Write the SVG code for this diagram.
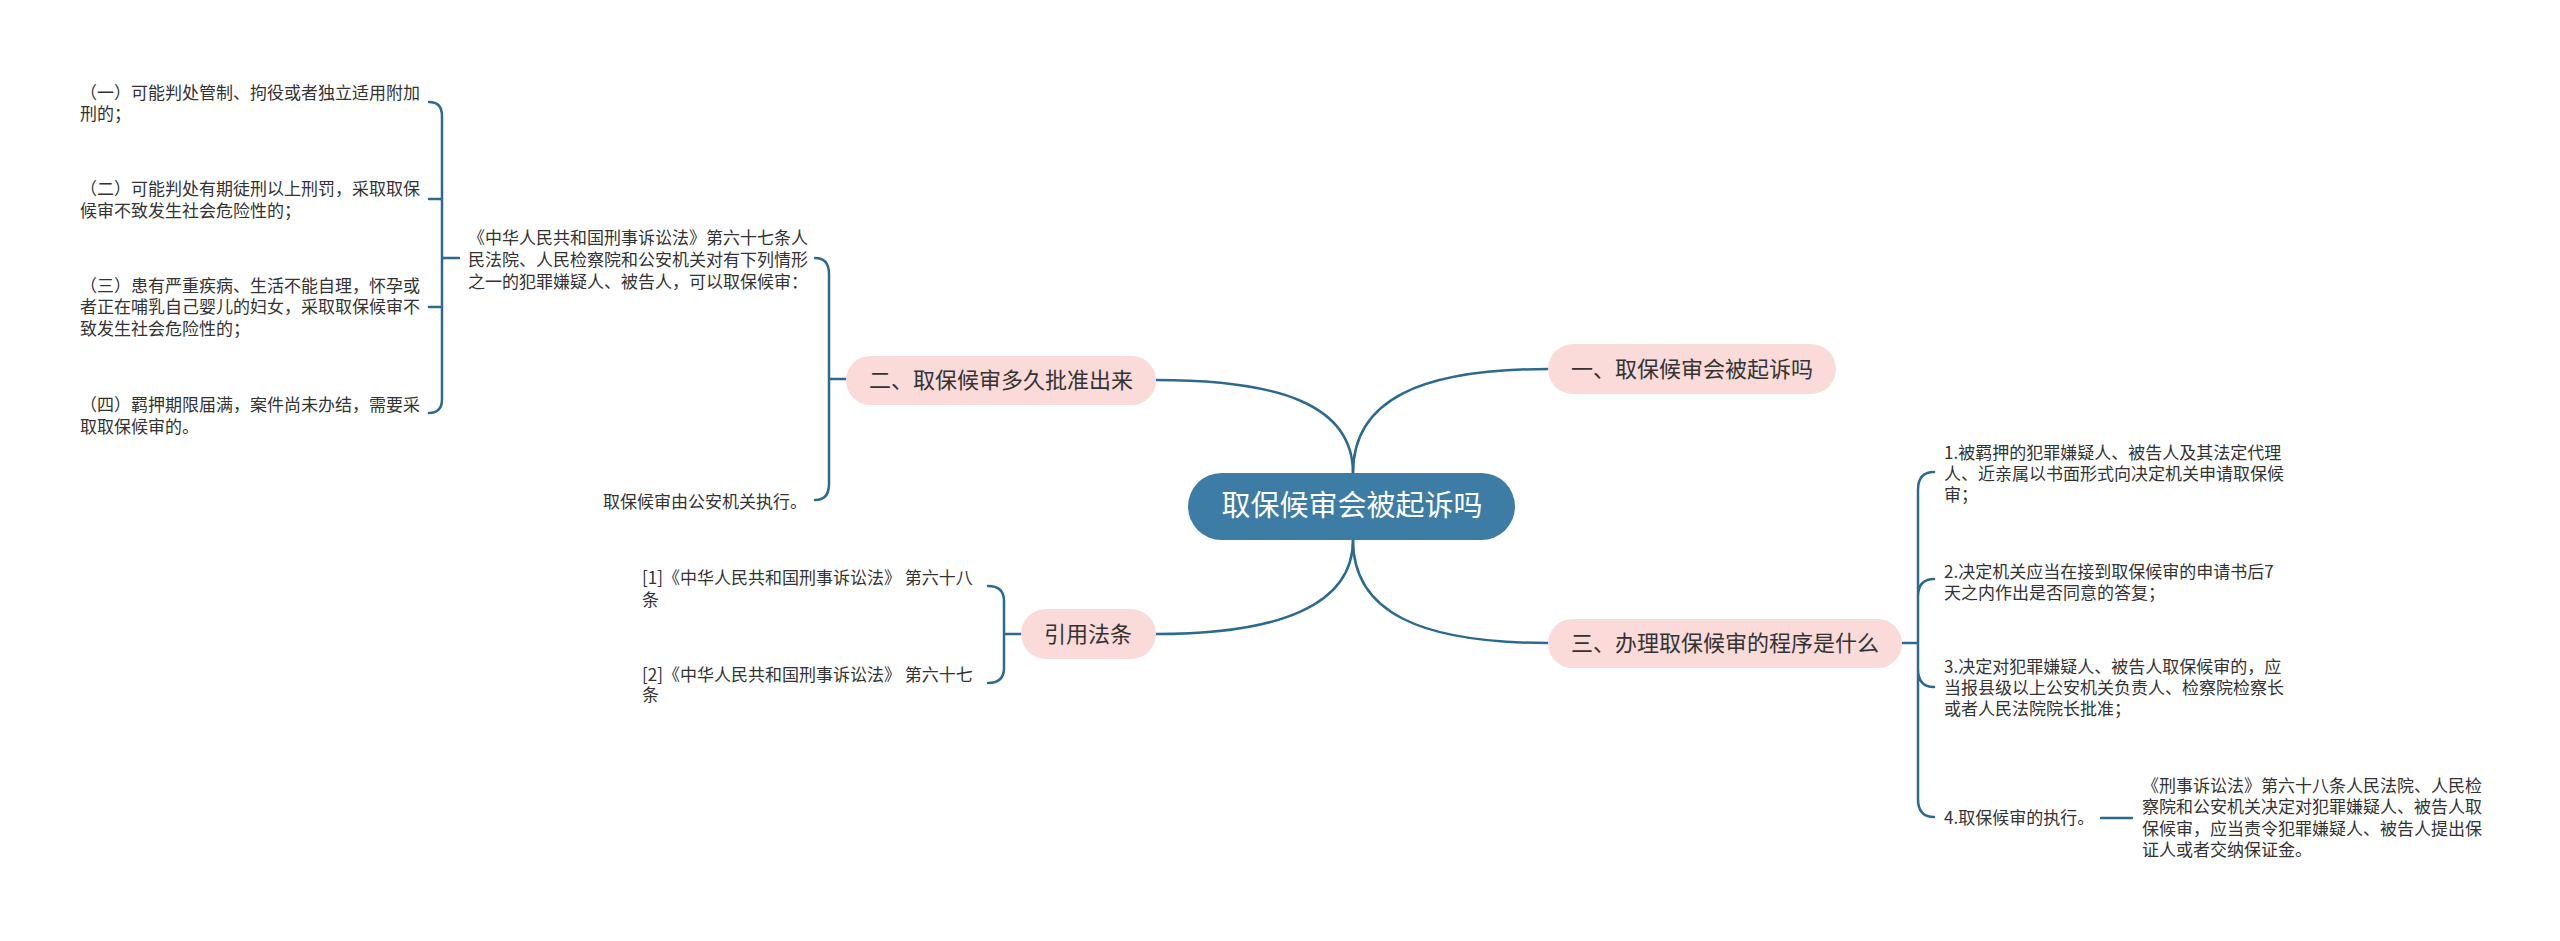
<svg xmlns="http://www.w3.org/2000/svg" width="2560" height="941" viewBox="0 0 2560 941">
<style>
.t{font-family:"Noto Sans CJK SC","Liberation Sans",sans-serif;font-size:17px;fill:#333}
.b{font-family:"Noto Sans CJK SC","Liberation Sans",sans-serif;font-size:22px;fill:#333}
.c{font-family:"Noto Sans CJK SC","Liberation Sans",sans-serif;font-size:29px;fill:#fff}
.pill{fill:#fadbd9}
.ln{fill:none;stroke:#2c6a8f;stroke-width:2.5;stroke-linecap:round}
</style>
<rect width="2560" height="941" fill="#fff"/>
<g id="connectors">
<path class="ln" d="M1353,473 C1353,400 1420,369 1548,369"/>
<path class="ln" d="M1353,473 C1353,405 1280,380 1156,380"/>
<path class="ln" d="M1353,540 C1353,612 1420,643 1548,643"/>
<path class="ln" d="M1353,540 C1353,605 1280,634 1156,634"/>
<path class="ln" d="M429,102 Q442,102 442,116 L442,399 Q442,413 429,413 M442,199 Q442,199 429,199 M442,307 L429,307 M442,258 L459,258"/>
<path class="ln" d="M815,258 Q829,258 829,274 L829,484 Q829,500 815,500 M829,379 L847,379"/>
<path class="ln" d="M988,586 Q1004,586 1004,601 L1004,668 Q1004,683 988,683 M1004,634 L1021,634"/>
<path class="ln" d="M1934,472 Q1918,472 1918,490 L1918,799 Q1918,817 1934,817 M1918,597 Q1918,579 1934,579 M1918,669 Q1918,687 1934,687 M1902,643 L1918,643"/>
<path class="ln" d="M2101,818 L2132,818"/>
</g>
<g id="center"><rect x="1188" y="473" width="327" height="67" rx="33.5" fill="#3d7ca5"/><text class="c" x="1352" y="516" text-anchor="middle">取保候审会被起诉吗</text></g>
<g id="n1"><rect class="pill" x="1548" y="344" width="288" height="50" rx="25"/><text class="b" x="1692" y="377" text-anchor="middle">一、取保候审会被起诉吗</text></g>
<g id="n3"><rect class="pill" x="1548" y="619" width="354" height="49" rx="24.5"/><text class="b" x="1725" y="651" text-anchor="middle">三、办理取保候审的程序是什么</text></g>
<g id="n2"><rect class="pill" x="846" y="356" width="310" height="49" rx="24.5"/><text class="b" x="1001" y="388" text-anchor="middle">二、取保候审多久批准出来</text></g>
<g id="ref"><rect class="pill" x="1021" y="609" width="135" height="50" rx="25"/><text class="b" x="1088" y="642" text-anchor="middle">引用法条</text></g>
<g id="l1"><text class="t" x="80" y="99">（一）可能判处管制、拘役或者独立适用附加</text><text class="t" x="80" y="120">刑的；</text></g>
<g id="l2"><text class="t" x="80" y="195">（二）可能判处有期徒刑以上刑罚，采取取保</text><text class="t" x="80" y="217">候审不致发生社会危险性的；</text></g>
<g id="l3"><text class="t" x="80" y="292">（三）患有严重疾病、生活不能自理，怀孕或</text><text class="t" x="80" y="313">者正在哺乳自己婴儿的妇女，采取取保候审不</text><text class="t" x="80" y="335">致发生社会危险性的；</text></g>
<g id="l4"><text class="t" x="80" y="411">（四）羁押期限届满，案件尚未办结，需要采</text><text class="t" x="80" y="433">取取保候审的。</text></g>
<g id="art67"><text class="t" x="468" y="244">《中华人民共和国刑事诉讼法》第六十七条人</text><text class="t" x="468" y="266">民法院、人民检察院和公安机关对有下列情形</text><text class="t" x="468" y="288">之一的犯罪嫌疑人、被告人，可以取保候审：</text></g>
<g id="exec"><text class="t" x="603" y="508">取保候审由公安机关执行。</text></g>
<g id="r1"><text class="t" x="642" y="584">[1]《中华人民共和国刑事诉讼法》 第六十八</text><text class="t" x="642" y="606">条</text></g>
<g id="r2"><text class="t" x="642" y="681">[2]《中华人民共和国刑事诉讼法》 第六十七</text><text class="t" x="642" y="701">条</text></g>
<g id="p1"><text class="t" x="1944" y="459">1.被羁押的犯罪嫌疑人、被告人及其法定代理</text><text class="t" x="1944" y="480">人、近亲属以书面形式向决定机关申请取保候</text><text class="t" x="1944" y="501">审；</text></g>
<g id="p2"><text class="t" x="1944" y="578">2.决定机关应当在接到取保候审的申请书后7</text><text class="t" x="1944" y="599">天之内作出是否同意的答复；</text></g>
<g id="p3"><text class="t" x="1944" y="673">3.决定对犯罪嫌疑人、被告人取保候审的，应</text><text class="t" x="1944" y="694">当报县级以上公安机关负责人、检察院检察长</text><text class="t" x="1944" y="715">或者人民法院院长批准；</text></g>
<g id="p4"><text class="t" x="1944" y="824">4.取保候审的执行。</text></g>
<g id="p4d"><text class="t" x="2142" y="792">《刑事诉讼法》第六十八条人民法院、人民检</text><text class="t" x="2142" y="813">察院和公安机关决定对犯罪嫌疑人、被告人取</text><text class="t" x="2142" y="835">保候审，应当责令犯罪嫌疑人、被告人提出保</text><text class="t" x="2142" y="856">证人或者交纳保证金。</text></g>
</svg>
